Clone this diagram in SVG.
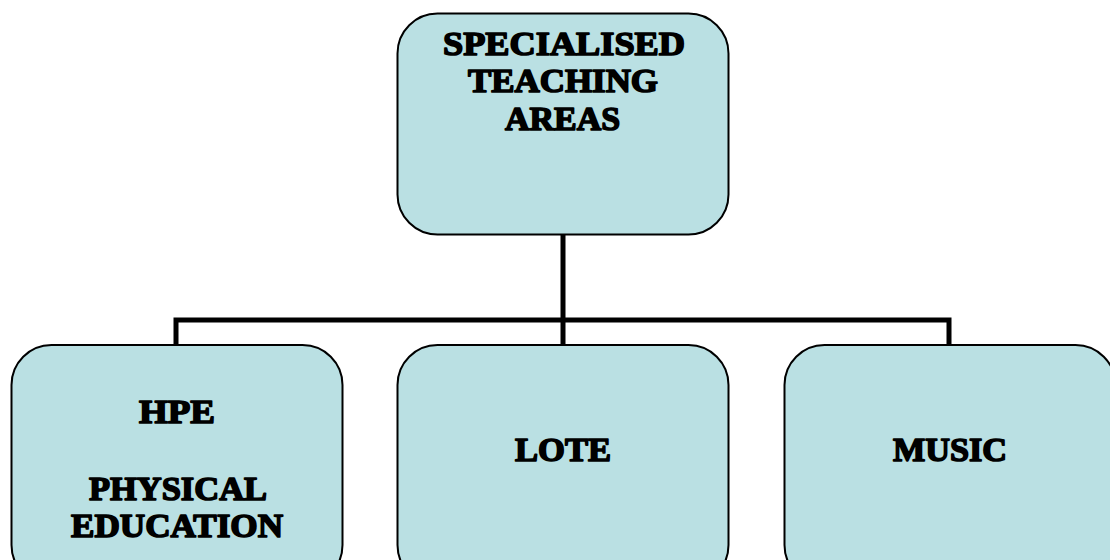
<svg xmlns="http://www.w3.org/2000/svg" width="1110" height="560" viewBox="0 0 1110 560">
<style>
.box{fill:#BAE0E3;stroke:#000;stroke-width:2}
.t{font-family:"Liberation Serif","Times New Roman",serif;font-weight:900;font-size:33px;fill:#000;stroke:#000;stroke-width:1.6;stroke-linejoin:round;text-anchor:middle}
.c{fill:none;stroke:#000;stroke-width:5}
</style>
<rect width="1110" height="560" fill="#fff"/>
<g id="connectors">
<path class="c" d="M563 235 V320 M176 345 V320 H949 V345 M563 320 V345"/>
</g>
<g id="node-top">
<rect class="box" x="397.5" y="13.5" width="331" height="221" rx="40"/>
<text class="t" x="564" y="55" textLength="242" lengthAdjust="spacingAndGlyphs">SPECIALISED</text>
<text class="t" x="563" y="92" textLength="190" lengthAdjust="spacingAndGlyphs">TEACHING</text>
<text class="t" x="562.5" y="130" textLength="115" lengthAdjust="spacingAndGlyphs">AREAS</text>
</g>
<g id="node-hpe">
<rect class="box" x="11.5" y="345" width="331" height="240" rx="40"/>
<text class="t" x="177" y="423" textLength="76" lengthAdjust="spacingAndGlyphs">HPE</text>
<text class="t" x="178" y="500" textLength="178" lengthAdjust="spacingAndGlyphs">PHYSICAL</text>
<text class="t" x="177" y="537" textLength="212" lengthAdjust="spacingAndGlyphs">EDUCATION</text>
</g>
<g id="node-lote">
<rect class="box" x="397.5" y="345" width="331" height="240" rx="40"/>
<text class="t" x="563" y="461" textLength="96" lengthAdjust="spacingAndGlyphs">LOTE</text>
</g>
<g id="node-music">
<rect class="box" x="784.5" y="345" width="331" height="240" rx="40"/>
<text class="t" x="950" y="461" textLength="114" lengthAdjust="spacingAndGlyphs">MUSIC</text>
</g>
</svg>
